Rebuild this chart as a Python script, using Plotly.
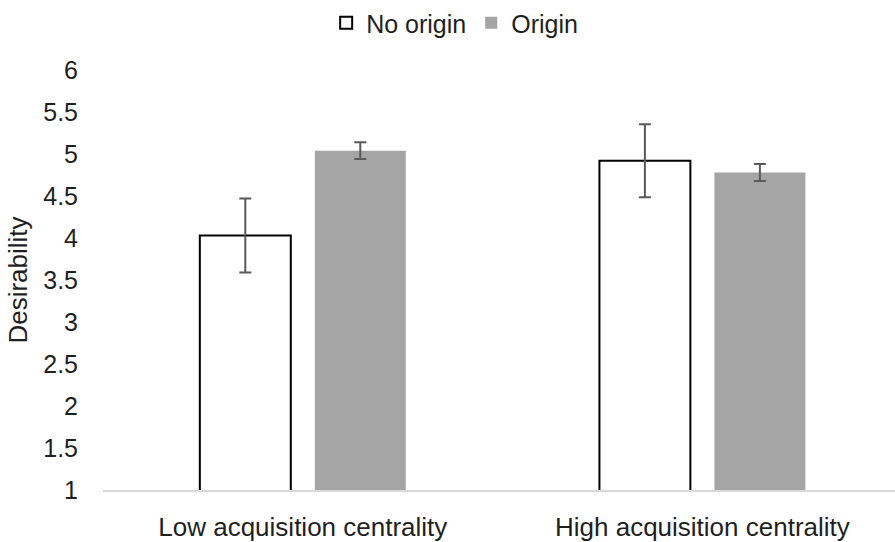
import plotly.graph_objects as go

categories = ["Low acquisition centrality", "High acquisition centrality"]
no_origin = [4.03, 4.92]
no_origin_err = [0.44, 0.435]
origin = [5.04, 4.78]
origin_err = [0.10, 0.10]
y_ticks = [1, 1.5, 2, 2.5, 3, 3.5, 4, 4.5, 5, 5.5, 6]
y_tick_labels = ["1", "1.5", "2", "2.5", "3", "3.5", "4", "4.5", "5", "5.5", "6"]

FONT = "Liberation Sans, Arial, sans-serif"
ERR_COLOR = "#595959"
TXT = "#1f1f1f"

fig = go.Figure()
fig.add_trace(go.Bar(
    name="No origin", x=categories, y=no_origin,
    marker=dict(color="white", line=dict(color="black", width=2)),
    error_y=dict(type="data", array=no_origin_err, color=ERR_COLOR, thickness=2, width=6),
))
fig.add_trace(go.Bar(
    name="Origin", x=categories, y=origin,
    marker=dict(color="#a5a5a5", line=dict(width=0)),
    error_y=dict(type="data", array=origin_err, color=ERR_COLOR, thickness=2, width=6),
))

fig.update_layout(
    width=895, height=542,
    margin=dict(l=103, r=0, t=70, b=48),
    paper_bgcolor="white", plot_bgcolor="white",
    barmode="group", bargap=0.4245, bargroupgap=0.209,
    font=dict(family=FONT, size=25, color=TXT),
    showlegend=True,
    legend=dict(orientation="h", x=0.508, xanchor="center", xref="container",
                y=1.0, yanchor="top", yref="container",
                font=dict(size=25, color=TXT), itemwidth=30, traceorder="normal"),
    xaxis=dict(range=[-0.5, 1.482], showline=True, linecolor="#d9d9d9", linewidth=1.5,
               ticks="", showgrid=False, tickfont=dict(size=26), ticklabelstandoff=13),
    yaxis=dict(range=[1, 6], tickvals=y_ticks, ticktext=y_tick_labels, showgrid=False,
               zeroline=False, showline=False, ticks="", tickfont=dict(size=25),
               ticklabelstandoff=24,
               title=dict(text="Desirability", font=dict(size=26), standoff=8)),
)

fig.write_html("out.html")
